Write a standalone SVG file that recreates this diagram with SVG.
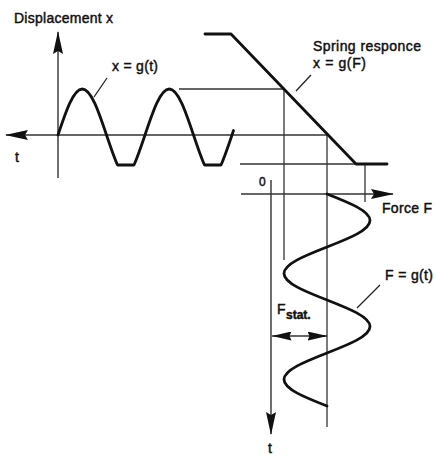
<svg xmlns="http://www.w3.org/2000/svg" width="435" height="455" viewBox="0 0 435 455">
<style>
text{font-family:"Liberation Sans",Arial,sans-serif;font-size:14px;fill:#111;stroke:#111;stroke-width:0.45}
.thick{fill:none;stroke:#111;stroke-width:2.8;stroke-linejoin:round;stroke-linecap:round}
.axis{fill:none;stroke:#333;stroke-width:1.4}
.thin{fill:none;stroke:#333;stroke-width:1.3}
.lead{fill:none;stroke:#222;stroke-width:1.3}
</style>
<defs>
<marker id="arr" markerUnits="userSpaceOnUse" markerWidth="23" markerHeight="10" viewBox="0 0 23 10" refX="22" refY="5" orient="auto-start-reverse">
<path d="M0,0 L23,5 L0,10 L3,5 z" fill="#111"/>
</marker>
<marker id="arrs" markerUnits="userSpaceOnUse" markerWidth="20" markerHeight="9" viewBox="0 0 20 9" refX="19.5" refY="4.5" orient="auto-start-reverse">
<path d="M0,0 L20,4.5 L0,9 L2,4.5 z" fill="#111"/>
</marker>
</defs>
<rect width="435" height="455" fill="#fff"/>
<g id="connectors">
<line class="axis" x1="58" y1="178" x2="58" y2="32" marker-end="url(#arr)"/>
<line class="axis" x1="328" y1="135" x2="6" y2="135" marker-end="url(#arr)"/>
<line class="axis" x1="241" y1="194" x2="393" y2="194" marker-end="url(#arr)"/>
<line class="axis" x1="271" y1="180" x2="271" y2="434" marker-end="url(#arr)"/>
<line class="thin" x1="179" y1="89" x2="284" y2="89"/>
<line class="thin" x1="240" y1="164" x2="356" y2="164"/>
<line class="thin" x1="284" y1="89" x2="284" y2="260"/>
<line class="thin" x1="327" y1="135" x2="327" y2="427"/>
<line class="thin" x1="365" y1="164" x2="365" y2="202"/>
<line class="axis" x1="272" y1="336" x2="327" y2="336" marker-start="url(#arrs)" marker-end="url(#arrs)"/>
<line class="lead" x1="107" y1="78" x2="94" y2="97"/>
<line class="lead" x1="311" y1="75" x2="296" y2="91"/>
<line class="lead" x1="380" y1="285" x2="357" y2="308"/>
</g>
<g id="displacement-wave">
<path class="thick" d="M58,135 c7.91,-23.57 15.47,-46 24.25,-46 c8.78,0 16.34,22.43 24.25,46 c3.66,10.9 7.31,21.74 10.97,30 h16.56 c3.66,-8.26 7.31,-19.1 10.97,-30 c7.91,-23.57 15.47,-46 24.25,-46 c8.78,0 16.34,22.43 24.25,46 c3.66,10.9 7.31,21.74 10.97,30 h16.56 c3.66,-8.26 7.31,-19.1 10.97,-30 l1.5,-4.5"/>
</g>
<g id="spring-response">
<path class="thick" d="M205,34 H231 L356,164 H387"/>
</g>
<g id="force-wave">
<path class="thick" d="M327,194 c22.03,8.64 43,16.91 43,26.5 c0,9.59 -20.97,17.86 -43,26.5 c-22.03,8.64 -43,16.91 -43,26.5 c0,9.59 20.97,17.86 43,26.5 c22.03,8.64 43,16.91 43,26.5 c0,9.59 -20.97,17.86 -43,26.5 c-22.03,8.64 -43,16.91 -43,26.5 c0,9.59 20.97,17.86 43,26.5"/>
</g>
<g id="labels">
<text x="14" y="23" textLength="99">Displacement x</text>
<text x="112" y="71" textLength="46">x = g(t)</text>
<text x="15" y="162">t</text>
<text x="313" y="51" textLength="108">Spring responce</text>
<text x="313" y="68" textLength="53">x = g(F)</text>
<text x="259" y="186" style="font-size:12px">0</text>
<text x="382" y="213" textLength="50">Force F</text>
<text x="385" y="280" textLength="48">F = g(t)</text>
<text x="277" y="314">F<tspan x="286" y="319" style="font-size:12px;font-weight:bold">stat.</tspan></text>
<text x="268" y="453">t</text>
</g>
</svg>
